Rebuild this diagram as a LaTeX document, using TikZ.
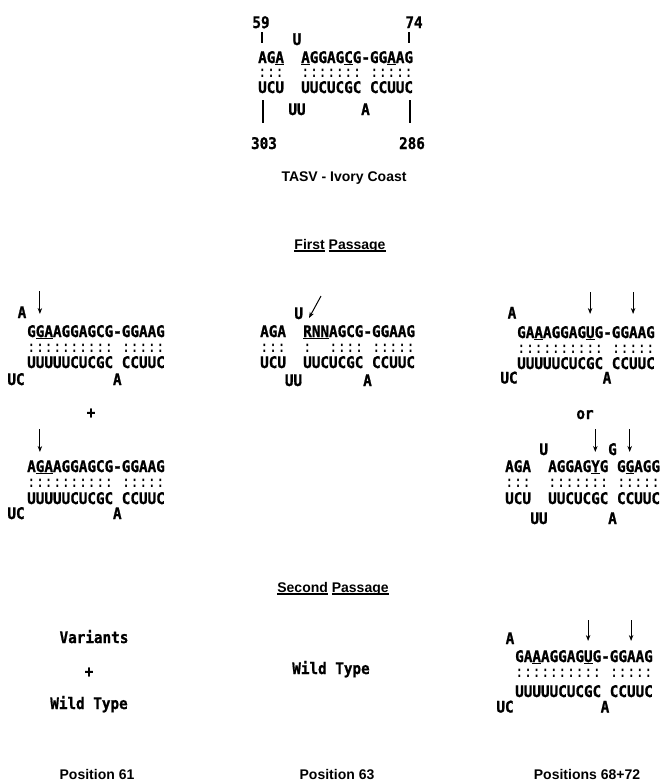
\documentclass[tikz,border=0pt]{standalone}
\usepackage{fontspec}
\setmainfont{Liberation Sans}
\newfontfamily\seqf[FakeStretch=0.893, BoldFeatures={FakeBold=1}]{DejaVu Sans Mono}
\usetikzlibrary{arrows.meta}
\newcommand\gp{\hphantom{A}}
\newcommand\ulc[1]{\setbox0\hbox{#1}\rlap{\rule[-2.4pt]{\wd0}{1.6pt}}\box0\relax}
\newcommand\ulw[1]{\setbox0\hbox{#1}\rlap{\rule[-2.6pt]{\wd0}{1.2pt}}\box0\relax}
\tikzset{
  seq/.style={font=\seqf\bfseries\fontsize{16}{16}\selectfont, inner sep=0pt, anchor=base west},
  colrow/.style={font=\seqf\fontsize{16}{16}\selectfont, inner sep=0pt, anchor=base west},
  lbl/.style={font=\seqf\bfseries\fontsize{16}{16}\selectfont, inner sep=0pt, anchor=base},
  ttl/.style={font=\bfseries\fontsize{14}{14}\selectfont, inner sep=0pt, anchor=base},
  arr/.style={line width=1pt, -{Stealth[length=6pt,width=4.5pt]}},
  tbar/.style={line width=2.2pt},
  bbar/.style={line width=2.8pt}
}
\begin{document}
\begin{tikzpicture}[x=1pt,y=-1pt]
\useasboundingbox (0,0) rectangle (660,782);
% ---------- TASV ----------
\node[lbl] (n59) at (261,28) {59};
\node[lbl] (n74) at (414,28) {74};
\draw[tbar] (262,32) -- (262,43);
\draw[tbar] (409,32) -- (409,43);
\node[lbl] (tU) at (297,45) {U};
\node[seq] (t1) at (258,63) {AG\ulc{A}\gp\gp\ulc{A}GGAG\ulc{C}G-GG\ulc{A}AG};
\node[colrow] (tc) at (258,77.5) {:::\gp\gp:::::::\gp:::::};
\node[seq] (t2) at (258,93) {UCU\gp\gp UUCUCGC\gp CCUUC};
\node[lbl] (tUU) at (297,115) {UU};
\node[lbl] (tA) at (365.5,115) {A};
\draw[bbar] (263,100) -- (263,123);
\draw[bbar] (410,100) -- (410,123);
\node[lbl] (n303) at (264,149) {303};
\node[lbl] (n286) at (412,149) {286};
\node[ttl] (title) at (344,181) {TASV - Ivory Coast};
% ---------- First passage ----------
\node[ttl] (fp) at (340,249) {\ulw{First} \ulw{Passage}};
% left A
\node[lbl] (laA) at (22,318) {A};
\draw[arr] (39.9,291) -- (39.9,314);
\node[seq] (la1) at (27,337) {G\ulc{GA}AGGAGCG-GGAAG};
\node[colrow] (lac) at (27,352.5) {::::::::::\gp:::::};
\node[seq] (la2) at (27,368) {UUUUUCUCGC\gp CCUUC};
\node[lbl] (laUC) at (16,385) {UC};
\node[lbl] (laA2) at (117.3,385) {A};
\node[lbl] (plus1) at (91,418) {+};
% left B
\draw[arr] (39.9,429) -- (39.9,452);
\node[seq] (lb1) at (27,472) {A\ulc{GA}AGGAGCG-GGAAG};
\node[colrow] (lbc) at (27,487.5) {::::::::::\gp:::::};
\node[seq] (lb2) at (27,504) {UUUUUCUCGC\gp CCUUC};
\node[lbl] (lbUC) at (16,519) {UC};
\node[lbl] (lbA2) at (117.3,519) {A};
% middle
\node[lbl] (mU) at (298.7,319) {U};
\draw[arr] (321,296) -- (309,318);
\node[seq] (m1) at (260,337) {AGA\gp\gp\ulc{RNN}AGCG-GGAAG};
\node[colrow] (mc) at (260,352.5) {:::\gp\gp:\gp\gp::::\gp:::::};
\node[seq] (m2) at (260,368) {UCU\gp\gp UUCUCGC\gp CCUUC};
\node[lbl] (mUU) at (293.5,386) {UU};
\node[lbl] (mA) at (367.5,386) {A};
% right A
\node[lbl] (raA) at (512,318.5) {A};
\draw[arr] (590.1,292) -- (590.1,314);
\draw[arr] (633.1,292) -- (633.1,314);
\node[seq] (ra1) at (517,338) {GA\ulc{A}AGGAG\ulc{U}G-GGAAG};
\node[colrow] (rac) at (517,353) {::::::::::\gp:::::};
\node[seq] (ra2) at (517,369) {UUUUUCUCGC\gp CCUUC};
\node[lbl] (raUC) at (509,383.5) {UC};
\node[lbl] (raA2) at (607,383.5) {A};
\node[lbl] (or) at (585,419) {or};
% right B
\node[lbl] (rbU) at (543.7,455) {U};
\node[lbl] (rbG) at (612.5,455) {G};
\draw[arr] (595.3,429) -- (595.3,452);
\draw[arr] (629.7,429) -- (629.7,452);
\node[seq] (rb1) at (505,472) {AGA\gp\gp AGGAG\ulc{Y}G\gp G\ulc{G}AGG};
\node[colrow] (rbc) at (505,487.5) {:::\gp\gp:::::::\gp:::::};
\node[seq] (rb2) at (505,504) {UCU\gp\gp UUCUCGC\gp CCUUC};
\node[lbl] (rbUU) at (539,524) {UU};
\node[lbl] (rbA) at (612.5,524) {A};
% ---------- Second passage ----------
\node[ttl] (sp) at (333,592) {\ulw{Second} \ulw{Passage}};
\node[lbl] (var) at (94,643) {Variants};
\node[lbl] (plus2) at (89,677) {+};
\node[lbl] (wt1) at (89,709) {Wild Type};
\node[lbl] (wt2) at (331,674) {Wild Type};
% right C
\node[lbl] (rcA) at (510,644) {A};
\draw[arr] (588.1,620) -- (588.1,641);
\draw[arr] (631.1,620) -- (631.1,641);
\node[seq] (rc1) at (515,662) {GA\ulc{A}AGGAG\ulc{U}G-GGAAG};
\node[colrow] (rcc) at (515,677.5) {::::::::::\gp:::::};
\node[seq] (rc2) at (515,697) {UUUUUCUCGC\gp CCUUC};
\node[lbl] (rcUC) at (505,712.5) {UC};
\node[lbl] (rcA2) at (605,712.5) {A};
% ---------- positions ----------
\node[ttl] (p61) at (97,779) {Position 61};
\node[ttl] (p63) at (337,779) {Position 63};
\node[ttl] (p68) at (587,779) {Positions 68+72};
\end{tikzpicture}
\end{document}
